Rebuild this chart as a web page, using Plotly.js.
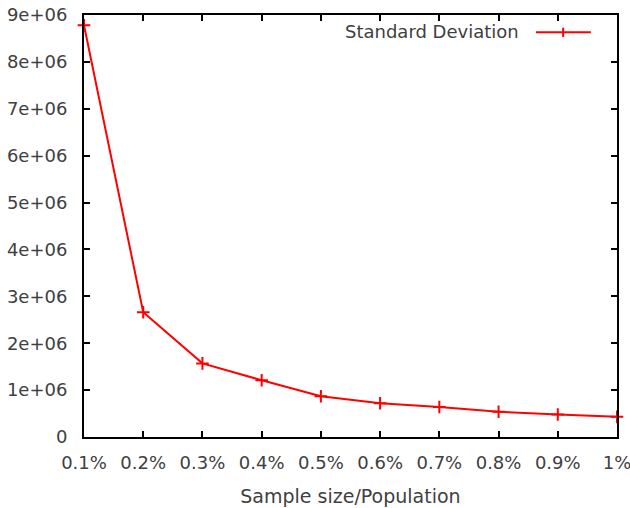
<!DOCTYPE html>
<html>
<head>
<meta charset="utf-8">
<script src="https://cdn.plot.ly/plotly-3.0.1.min.js"></script>
<style>html,body{margin:0;padding:0;background:#fff;}#chart{width:630px;height:508px;}</style>
</head>
<body>
<div id="chart"></div>
<script>
const sampleFraction = [0.1, 0.2, 0.3, 0.4, 0.5, 0.6, 0.7, 0.8, 0.9, 1.0];
const stdDeviation = [8780000, 2660000, 1570000, 1210000, 870000, 720000, 640000, 540000, 480000, 430000];
const xTickVals = [0.1, 0.2, 0.3, 0.4, 0.5, 0.6, 0.7, 0.8, 0.9, 1.0];
const xTickText = ["0.1%", "0.2%", "0.3%", "0.4%", "0.5%", "0.6%", "0.7%", "0.8%", "0.9%", "1%"];
const yTickVals = [0, 1e6, 2e6, 3e6, 4e6, 5e6, 6e6, 7e6, 8e6, 9e6];
const yTickText = ["0", "1e+06", "2e+06", "3e+06", "4e+06", "5e+06", "6e+06", "7e+06", "8e+06", "9e+06"];
const seriesName = "Standard Deviation";

const font = {family: "DejaVu Sans, sans-serif", size: 18, color: "#404040"};
const titleFont = {family: "DejaVu Sans, sans-serif", size: 19, color: "#404040"};

const trace = {
  x: sampleFraction, y: stdDeviation, name: seriesName,
  type: "scatter", mode: "lines+markers",
  line: {color: "#ff0000", width: 2},
  marker: {symbol: "cross-thin", size: 9, line: {color: "#ff0000", width: 2}, color: "#ff0000"},
  cliponaxis: false, showlegend: false
};

const layout = {
  width: 630, height: 508,
  margin: {l: 84, r: 13, t: 15, b: 71},
  paper_bgcolor: "#fff", plot_bgcolor: "#fff",
  font: font,
  showlegend: false,
  xaxis: {
    range: [0.1, 1.0], tickvals: xTickVals, ticktext: xTickText,
    ticks: "inside", ticklen: 6, tickwidth: 2, tickcolor: "#000",
    showline: true, linecolor: "#000", linewidth: 2, mirror: "ticks",
    showgrid: false, zeroline: false, ticklabelstandoff: 8,
    ticklabeloverflow: "allow",
    title: {text: "Sample size/Population", font: titleFont, standoff: 18}
  },
  yaxis: {
    range: [0, 9e6], tickvals: yTickVals, ticktext: yTickText,
    ticks: "inside", ticklen: 6, tickwidth: 2, tickcolor: "#000",
    showline: true, linecolor: "#000", linewidth: 2, mirror: "ticks",
    showgrid: false, zeroline: false, ticklabelstandoff: 11,
    ticklabeloverflow: "allow"
  },
  annotations: [{
    xref: "paper", yref: "paper", x: 0.820, y: 0.960, xanchor: "right", yanchor: "middle",
    text: seriesName, showarrow: false, font: font
  }],
  shapes: [
    {type: "line", xref: "paper", yref: "paper", x0: 0.848, x1: 0.951, y0: 0.959, y1: 0.959, line: {color: "#ff0000", width: 2}},
    {type: "line", xref: "paper", yref: "paper", x0: 0.899, x1: 0.899, y0: 0.948, y1: 0.970, line: {color: "#ff0000", width: 2}}
  ]
};

Plotly.newPlot("chart", [trace], layout, {displayModeBar: false, staticPlot: true});
</script>
</body>
</html>
